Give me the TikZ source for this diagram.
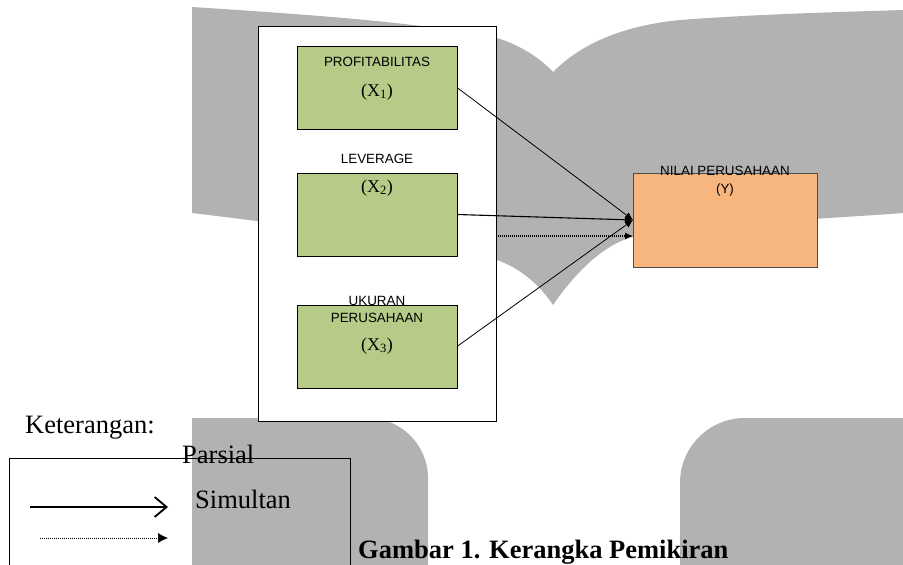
\documentclass[tikz,border=0pt]{standalone}
\usepackage{fontspec}
\setmainfont{Liberation Serif}
\setsansfont{Liberation Sans}
\usetikzlibrary{arrows.meta}
\definecolor{wmgray}{RGB}{178,178,178}
\definecolor{boxgreen}{RGB}{183,203,136}
\definecolor{boxorange}{RGB}{247,182,126}
\begin{document}
\begin{tikzpicture}[x=1pt,y=-1pt,
  varbox/.style={draw=black, line width=0.9pt, fill=boxgreen, minimum width=160pt, minimum height=83pt, inner sep=0pt, outer sep=0pt, anchor=north west},
  ybox/.style={draw=black!70, line width=0.9pt, fill=boxorange, minimum width=184pt, minimum height=94pt, inner sep=0pt, outer sep=0pt, anchor=north west},
  slabel/.style={font=\sffamily\fontsize{13.4}{13.4}\selectfont, inner sep=0pt, anchor=base},
  xlabel/.style={font=\fontsize{18}{18}\selectfont, inner sep=0pt, anchor=base},
  rmtext/.style={font=\fontsize{26.5}{26.5}\selectfont, inner sep=0pt, anchor=base west},
  conn/.style={line width=0.8pt, -{Latex[length=8pt,width=7pt]}},
  dconn/.style={line width=1.1pt, dash pattern=on 1pt off 1pt, -{Latex[length=8pt,width=7pt]}}
]
\useasboundingbox (0,0) rectangle (903,565);
\fill[white] (0,0) rectangle (903,565);
% watermark: open book
\fill[wmgray] (192,7) .. controls (300,14) and (420,22) .. (497,38)
  .. controls (520,45) and (540,58) .. (553,72)
  .. controls (580,45) and (620,26) .. (680,20)
  .. controls (760,14) and (840,12) .. (903,10)
  -- (903,213)
  .. controls (840,218) and (700,224) .. (633,237)
  .. controls (600,245) and (570,280) .. (553,305)
  .. controls (540,285) and (520,268) .. (497,260)
  .. controls (420,242) and (300,226) .. (192,213) -- cycle;
% watermark: lower pieces
\fill[wmgray] (192,565) -- (192,418) -- (368,418)
  .. controls (401,418) and (428,445) .. (428,478) -- (428,565) -- cycle;
\fill[wmgray] (680,565) -- (680,483)
  .. controls (680,447) and (709,418) .. (745,418) -- (903,418) -- (903,565) -- cycle;
% outer box
\node[draw=black, line width=0.9pt, fill=white, minimum width=238pt, minimum height=395pt, inner sep=0pt, outer sep=0pt, anchor=north west] (outer) at (258,26) {};
% variable boxes
\node[varbox] (X1) at (297,46) {};
\node[varbox] (X2) at (297,173) {};
\node[varbox] (X3) at (297,305) {};
\node[ybox] (Y) at (633,173) {};
% labels
\node[slabel] (l1) at (377,66.5) {PROFITABILITAS};
\node[xlabel] (x1) at (377,96) {(X\textsubscript{1})};
\node[slabel] (l2) at (377,163) {LEVERAGE};
\node[xlabel] (x2) at (377,192) {(X\textsubscript{2})};
\node[slabel] (l3a) at (377,305) {UKURAN};
\node[slabel] (l3b) at (377,322) {PERUSAHAAN};
\node[xlabel] (x3) at (377,350) {(X\textsubscript{3})};
\node[slabel] (ly) at (725,175) {NILAI PERUSAHAAN};
\node[slabel] (yy) at (725,193) {(Y)};
% connectors
\draw[conn] (X1.east) -- (Y.west);
\draw[conn, line width=1.1pt] (X2.east) -- (Y.west);
\draw[conn] (X3.east) -- (Y.west);
\coordinate (dy) at (0,236);
\draw[dconn] (outer.east |- dy) -- (Y.west |- dy);
% legend
\node[rmtext] (ket) at (25,433) {Keterangan:};
\draw[line width=0.9pt] (9,566) -- (9,458) -- (350,458) -- (350,566);
\node[rmtext] (par) at (182,463) {Parsial};
\node[rmtext] (sim) at (195,508) {Simultan};
\coordinate (ls1) at (30,507);
\coordinate (ls2) at (168,507);
\draw[line width=1.8pt, -{Straight Barb[length=12pt,width=20pt]}] (ls1) -- (ls2);
\coordinate (ld1) at (40,538);
\coordinate (ld2) at (168,538);
\draw[line width=0.6pt, dash pattern=on 1pt off 1pt, -{Latex[length=10pt,width=10pt]}] (ld1) -- (ld2);
\node[rmtext, font=\bfseries\fontsize{26.5}{26.5}\selectfont] (cap) at (358,558) {Gambar 1. Kerangka Pemikiran};
\end{tikzpicture}
\end{document}
